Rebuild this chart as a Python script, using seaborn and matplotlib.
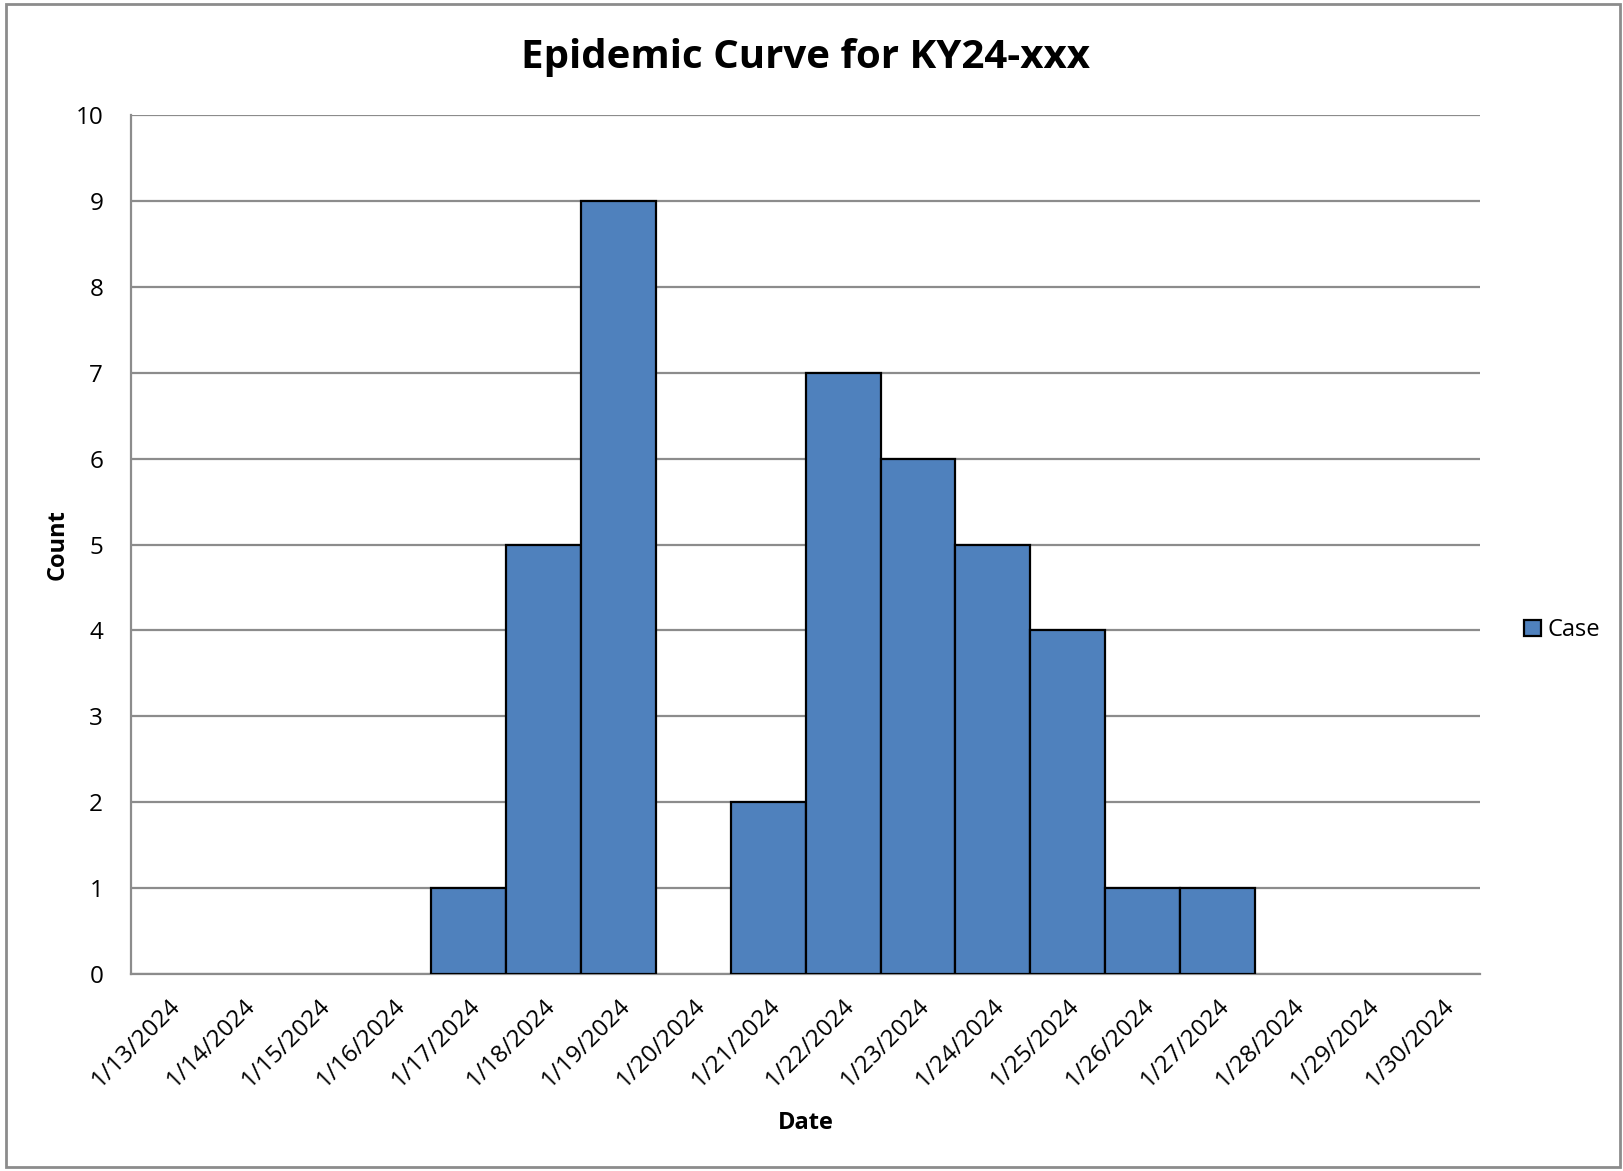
import matplotlib
matplotlib.use("Agg")
import matplotlib.pyplot as plt
import matplotlib.transforms as mtransforms
import seaborn as sns
import pandas as pd
from matplotlib.patches import Rectangle

dates = ["1/13/2024", "1/14/2024", "1/15/2024", "1/16/2024", "1/17/2024", "1/18/2024",
         "1/19/2024", "1/20/2024", "1/21/2024", "1/22/2024", "1/23/2024", "1/24/2024",
         "1/25/2024", "1/26/2024", "1/27/2024", "1/28/2024", "1/29/2024", "1/30/2024"]
cases = [0, 0, 0, 0, 1, 5, 9, 0, 2, 7, 6, 5, 4, 1, 1, 0, 0, 0]
y_ticks = list(range(0, 11))

sns.set_style("white")
plt.rcParams['font.family'] = ['Open Sans', 'DejaVu Sans']
plt.rcParams['text.color'] = 'black'
plt.rcParams['axes.labelcolor'] = 'black'
plt.rcParams['xtick.color'] = 'black'
plt.rcParams['ytick.color'] = 'black'

df = pd.DataFrame({"Date": dates, "Count": cases})

fig = plt.figure(figsize=(16.23, 11.71), dpi=100)
ax = fig.add_axes([0.0807, 0.1682, 0.912 - 0.0807, 0.9018 - 0.1682])

grid_col = "#8c8c8c"
sns.barplot(data=df, x="Date", y="Count", ax=ax, color="#4F81BD", saturation=1,
            width=1.0, edgecolor="black", linewidth=1.6, label="Case", zorder=3)
for p in ax.patches:
    if p.get_height() == 0:
        p.set_edgecolor("none")

ax.set_ylim(0, 10)
ax.set_xlim(-0.5, len(dates) - 0.5)
ax.set_yticks(y_ticks)
ax.set_yticklabels([str(v) for v in y_ticks], fontsize=17.5)
ax.yaxis.grid(True, color=grid_col, linewidth=1.6, zorder=0)
ax.set_axisbelow(True)

ax.set_xticks(range(len(dates)))
ax.set_xticklabels(dates, rotation=45, ha="right", va="top", rotation_mode="anchor", fontsize=17.5)
offset = mtransforms.ScaledTranslation(-5 / 100, 0, fig.dpi_scale_trans)
for lbl in ax.get_xticklabels():
    lbl.set_transform(lbl.get_transform() + offset)
ax.set_xticks([i - 0.5 for i in range(len(dates) + 1)], minor=True)
ax.tick_params(axis="x", which="major", length=0, pad=14)
ax.tick_params(axis="x", which="minor", length=8, width=1.6, color=grid_col, direction="out")
ax.tick_params(axis="y", which="major", length=8, width=1.6, color=grid_col, direction="out", pad=12)

for s in ["top", "right"]:
    ax.spines[s].set_visible(False)
for s in ["left", "bottom"]:
    ax.spines[s].set_color(grid_col)
    ax.spines[s].set_linewidth(1.6)

ax.set_xlabel("Date", fontsize=17, fontweight="bold", labelpad=14)
ax.set_ylabel("Count", fontsize=17, fontweight="bold", labelpad=4)
ax.set_title("Epidemic Curve for KY24-xxx", fontsize=29, fontweight="bold", pad=34)

leg = ax.legend(loc="center left", bbox_to_anchor=(1.017, 0.4), frameon=False, fontsize=17,
                handlelength=0.7, handleheight=0.7, handletextpad=0.3)
for h in leg.legend_handles:
    h.set_edgecolor("black")
    h.set_linewidth(1.6)

fig.patches.append(Rectangle((0.004, 0.003), 0.994, 0.994, transform=fig.transFigure,
                             fill=False, edgecolor=grid_col, linewidth=2))

fig.savefig("out.png", dpi=100)
